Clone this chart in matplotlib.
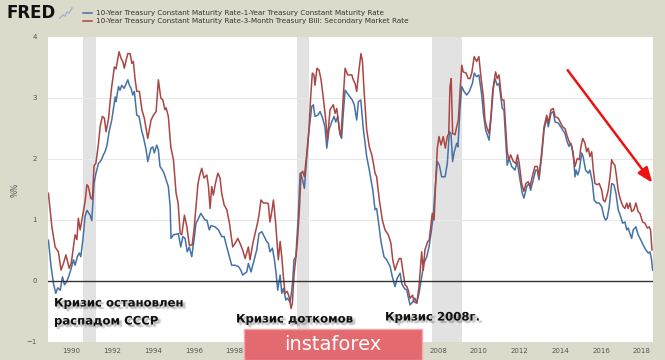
import matplotlib
matplotlib.use("Agg")
import matplotlib.pyplot as plt
import matplotlib.patheffects as pe
from matplotlib.patches import Rectangle

# ---- data (decimal years, percent) ----
red_years = [1988.86, 1989.03, 1989.19, 1989.35, 1989.48, 1989.60, 1989.72, 1989.88, 1989.98, 1990.09,
             1990.17, 1990.26, 1990.33, 1990.42, 1990.53, 1990.66, 1990.75, 1990.82, 1990.94, 1991.02,
             1991.10, 1991.19, 1991.32, 1991.40, 1991.51, 1991.61, 1991.69, 1991.81, 1991.89, 1991.97,
             1992.10, 1992.18, 1992.33, 1992.43, 1992.51, 1992.59, 1992.66, 1992.76, 1992.87, 1992.96,
             1993.03, 1993.12, 1993.20, 1993.33, 1993.45, 1993.57, 1993.74, 1993.90, 1994.02, 1994.15,
             1994.26, 1994.38, 1994.48, 1994.58, 1994.64, 1994.75, 1994.87, 1995.00, 1995.13, 1995.23,
             1995.33, 1995.41, 1995.54, 1995.66, 1995.78, 1995.92, 1996.01, 1996.10, 1996.20, 1996.27,
             1996.39, 1996.50, 1996.64, 1996.72, 1996.80, 1996.88, 1996.96, 1997.06, 1997.18, 1997.29,
             1997.37, 1997.49, 1997.62, 1997.75, 1997.91, 1998.03, 1998.16, 1998.27, 1998.40, 1998.52,
             1998.68, 1998.76, 1998.90, 1999.01, 1999.14, 1999.20, 1999.30, 1999.42, 1999.58, 1999.66,
             1999.74, 1999.83, 1999.91, 2000.02, 2000.15, 2000.24, 2000.32, 2000.40, 2000.48, 2000.59,
             2000.68, 2000.78, 2000.84, 2000.92, 2001.01, 2001.08, 2001.17, 2001.27, 2001.35, 2001.43,
             2001.55, 2001.66, 2001.74, 2001.82, 2001.90, 2001.95, 2002.05, 2002.15, 2002.25, 2002.36,
             2002.48, 2002.56, 2002.69, 2002.85, 2002.94, 2003.02, 2003.15, 2003.23, 2003.34, 2003.43,
             2003.56, 2003.76, 2003.83, 2003.92, 2004.00, 2004.11, 2004.21, 2004.28, 2004.36, 2004.49,
             2004.62, 2004.74, 2004.82, 2004.90, 2004.98, 2005.11, 2005.26, 2005.39, 2005.55, 2005.68,
             2005.77, 2005.88, 2005.99, 2006.09, 2006.18, 2006.26, 2006.37, 2006.46, 2006.53, 2006.62,
             2006.75, 2006.81, 2006.95, 2007.06, 2007.19, 2007.27, 2007.35, 2007.49, 2007.56, 2007.63,
             2007.71, 2007.80, 2007.89, 2007.96, 2008.04, 2008.14, 2008.25, 2008.35, 2008.45, 2008.52,
             2008.58, 2008.64, 2008.71, 2008.83, 2008.91, 2008.99, 2009.07, 2009.16, 2009.23, 2009.37,
             2009.48, 2009.56, 2009.65, 2009.77, 2009.89, 2010.00, 2010.10, 2010.22, 2010.30, 2010.38,
             2010.50, 2010.59, 2010.68, 2010.82, 2010.90, 2010.99, 2011.12, 2011.23, 2011.32, 2011.39,
             2011.48, 2011.56, 2011.69, 2011.81, 2011.90, 2011.98, 2012.10, 2012.21, 2012.31, 2012.42,
             2012.51, 2012.62, 2012.75, 2012.87, 2012.95, 2013.08, 2013.20, 2013.33, 2013.41, 2013.54,
             2013.65, 2013.74, 2013.90, 2014.02, 2014.11, 2014.23, 2014.34, 2014.47, 2014.56, 2014.67,
             2014.72, 2014.83, 2014.93, 2015.01, 2015.10, 2015.21, 2015.29, 2015.37, 2015.45, 2015.54,
             2015.62, 2015.70, 2015.81, 2015.91, 2016.03, 2016.11, 2016.19, 2016.27, 2016.35, 2016.44,
             2016.52, 2016.60, 2016.68, 2016.76, 2016.84, 2016.93, 2017.01, 2017.09, 2017.17, 2017.26,
             2017.33, 2017.42, 2017.50, 2017.61, 2017.71, 2017.82, 2017.91, 2018.04, 2018.15, 2018.27,
             2018.36, 2018.43, 2018.50]
red_values = [1.43, 0.88, 0.55, 0.47, 0.17, 0.28, 0.42, 0.20, 0.28, 0.55,
              0.75, 0.67, 1.02, 0.83, 1.04, 1.29, 1.57, 1.54, 1.35, 1.33,
              1.88, 1.92, 2.25, 2.52, 2.69, 2.66, 2.44, 2.64, 2.93, 3.18,
              3.50, 3.47, 3.75, 3.64, 3.59, 3.48, 3.59, 3.72, 3.72, 3.56,
              3.59, 3.29, 3.10, 3.10, 2.80, 2.66, 2.33, 2.63, 2.71, 2.77,
              3.29, 2.99, 2.96, 2.80, 2.83, 2.69, 2.19, 1.98, 1.43, 1.27,
              0.77, 0.75, 1.07, 0.88, 0.58, 0.58, 0.83, 1.18, 1.57, 1.70,
              1.84, 1.68, 1.73, 1.54, 1.18, 1.54, 1.40, 1.59, 1.76, 1.68,
              1.43, 1.24, 1.16, 0.94, 0.55, 0.61, 0.69, 0.61, 0.50, 0.36,
              0.55, 0.34, 0.61, 0.77, 0.96, 1.07, 1.32, 1.27, 1.27, 1.26,
              0.96, 1.13, 1.32, 0.94, 0.34, 0.64, 0.39, 0.06, -0.21, -0.18,
              -0.27, -0.46, -0.37, 0.09, 0.36, 0.61, 1.07, 1.76, 1.79, 1.70,
              2.09, 2.50, 3.01, 3.40, 3.37, 3.20, 3.48, 3.45, 3.29, 2.99,
              2.63, 2.30, 2.80, 2.88, 2.74, 2.82, 2.47, 2.36, 3.01, 3.48,
              3.37, 3.37, 3.29, 3.23, 3.10, 3.45, 3.72, 3.60, 3.12, 2.47,
              2.19, 2.06, 1.92, 1.76, 1.70, 1.32, 0.99, 0.83, 0.75, 0.61,
              0.34, 0.17, 0.28, 0.36, 0.36, 0.17, -0.07, -0.10, -0.16, -0.29,
              -0.24, -0.35, -0.37, -0.10, 0.47, 0.17, 0.50, 0.64, 0.66, 0.86,
              1.10, 0.99, 1.70, 2.17, 2.36, 2.22, 2.36, 2.17, 2.36, 2.41,
              3.18, 3.31, 2.41, 2.39, 2.52, 2.63, 3.07, 3.53, 3.42, 3.40,
              3.31, 3.31, 3.40, 3.67, 3.59, 3.67, 3.34, 3.01, 2.63, 2.52,
              2.41, 2.69, 3.12, 3.42, 3.31, 3.37, 2.96, 2.96, 2.47, 2.11,
              1.98, 2.06, 1.95, 1.92, 2.06, 1.92, 1.59, 1.46, 1.59, 1.62,
              1.54, 1.70, 1.87, 1.87, 1.70, 2.09, 2.52, 2.71, 2.58, 2.80,
              2.82, 2.69, 2.66, 2.58, 2.52, 2.49, 2.36, 2.25, 2.20, 1.98,
              1.87, 2.00, 1.98, 2.19, 2.33, 2.25, 2.11, 2.17, 2.03, 2.11,
              1.81, 1.59, 1.57, 1.59, 1.48, 1.32, 1.29, 1.37, 1.48, 1.70,
              1.98, 1.92, 1.89, 1.70, 1.48, 1.35, 1.27, 1.21, 1.18, 1.27,
              1.18, 1.27, 1.13, 1.16, 1.27, 1.13, 1.10, 0.96, 0.94, 0.86,
              0.88, 0.83, 0.50]

blue_years = [1988.86, 1988.99, 1989.11, 1989.22, 1989.32, 1989.44, 1989.55, 1989.65, 1989.76, 1989.88,
              1989.98, 1990.09, 1990.17, 1990.28, 1990.38, 1990.45, 1990.55, 1990.66, 1990.75, 1990.91,
              1990.99, 1991.10, 1991.19, 1991.32, 1991.45, 1991.56, 1991.64, 1991.74, 1991.84, 1991.97,
              1992.14, 1992.18, 1992.30, 1992.38, 1992.46, 1992.58, 1992.68, 1992.76, 1992.84, 1992.92,
              1993.00, 1993.08, 1993.20, 1993.31, 1993.45, 1993.52, 1993.66, 1993.74, 1993.90, 1993.99,
              1994.06, 1994.18, 1994.26, 1994.34, 1994.46, 1994.54, 1994.64, 1994.75, 1994.84, 1994.88,
              1995.00, 1995.16, 1995.24, 1995.36, 1995.46, 1995.57, 1995.68, 1995.78, 1995.90, 1996.03,
              1996.11, 1996.22, 1996.34, 1996.44, 1996.55, 1996.64, 1996.76, 1996.85, 1997.04, 1997.21,
              1997.37, 1997.49, 1997.62, 1997.75, 1997.86, 1998.03, 1998.19, 1998.31, 1998.40, 1998.52,
              1998.60, 1998.68, 1998.81, 1998.92, 1999.09, 1999.20, 1999.34, 1999.46, 1999.58, 1999.66,
              1999.74, 1999.86, 1999.96, 2000.04, 2000.12, 2000.24, 2000.32, 2000.40, 2000.52, 2000.59,
              2000.73, 2000.81, 2000.86, 2000.92, 2001.01, 2001.13, 2001.22, 2001.33, 2001.43, 2001.55,
              2001.66, 2001.79, 2001.87, 2001.95, 2002.09, 2002.20, 2002.33, 2002.44, 2002.53, 2002.64,
              2002.77, 2002.89, 2002.97, 2003.07, 2003.18, 2003.26, 2003.34, 2003.43, 2003.54, 2003.67,
              2003.78, 2003.88, 2004.00, 2004.08, 2004.20, 2004.32, 2004.49, 2004.62, 2004.79, 2004.90,
              2004.98, 2005.10, 2005.19, 2005.34, 2005.47, 2005.64, 2005.75, 2005.88, 2005.99, 2006.13,
              2006.21, 2006.34, 2006.46, 2006.53, 2006.62, 2006.75, 2006.86, 2006.95, 2007.06, 2007.19,
              2007.30, 2007.44, 2007.55, 2007.65, 2007.76, 2007.86, 2007.96, 2008.06, 2008.17, 2008.34,
              2008.45, 2008.55, 2008.63, 2008.71, 2008.79, 2008.91, 2008.97, 2009.07, 2009.16, 2009.27,
              2009.40, 2009.53, 2009.68, 2009.77, 2009.89, 2010.00, 2010.14, 2010.22, 2010.33, 2010.50,
              2010.59, 2010.71, 2010.79, 2010.90, 2010.99, 2011.15, 2011.23, 2011.32, 2011.39, 2011.48,
              2011.61, 2011.77, 2011.88, 2012.02, 2012.13, 2012.21, 2012.35, 2012.46, 2012.54, 2012.67,
              2012.79, 2012.87, 2012.95, 2013.08, 2013.20, 2013.33, 2013.41, 2013.54, 2013.65, 2013.74,
              2013.90, 2014.02, 2014.11, 2014.23, 2014.31, 2014.42, 2014.52, 2014.63, 2014.72, 2014.77,
              2014.85, 2014.93, 2015.05, 2015.12, 2015.24, 2015.37, 2015.45, 2015.57, 2015.66, 2015.78,
              2015.91, 2016.03, 2016.14, 2016.22, 2016.30, 2016.40, 2016.52, 2016.63, 2016.73, 2016.84,
              2016.96, 2017.06, 2017.17, 2017.26, 2017.33, 2017.50, 2017.58, 2017.71, 2017.82, 2017.96,
              2018.07, 2018.20, 2018.32, 2018.40, 2018.48, 2018.53]
blue_values = [0.66, 0.23, -0.05, -0.21, -0.12, -0.16, 0.06, -0.07, -0.02, 0.09,
               0.20, 0.34, 0.25, 0.39, 0.45, 0.39, 0.66, 1.05, 1.15, 1.07,
               0.98, 1.59, 1.75, 1.92, 1.97, 2.06, 2.11, 2.22, 2.44, 2.63,
               3.01, 2.93, 3.18, 3.12, 3.20, 3.15, 3.23, 3.29, 3.20, 3.15,
               3.04, 3.10, 2.71, 2.69, 2.44, 2.36, 2.14, 1.95, 2.17, 2.19,
               2.09, 2.22, 2.14, 1.87, 1.81, 1.76, 1.65, 1.54, 1.21, 0.69,
               0.75, 0.76, 0.77, 0.55, 0.72, 0.69, 0.47, 0.55, 0.39, 0.72,
               0.94, 1.01, 1.10, 1.05, 0.99, 0.99, 0.83, 0.90, 0.88, 0.83,
               0.72, 0.72, 0.55, 0.39, 0.25, 0.25, 0.23, 0.17, 0.09, 0.12,
               0.14, 0.28, 0.14, 0.28, 0.50, 0.77, 0.80, 0.72, 0.64, 0.61,
               0.47, 0.53, 0.34, 0.12, -0.16, 0.09, -0.21, -0.13, -0.32, -0.29,
               -0.35, -0.16, 0.01, 0.34, 0.39, 1.05, 1.76, 1.67, 1.51, 2.03,
               2.47, 2.85, 2.88, 2.69, 2.71, 2.77, 2.66, 2.52, 2.17, 2.47,
               2.60, 2.69, 2.60, 2.69, 2.39, 2.33, 2.74, 3.12, 3.07, 3.01,
               2.96, 2.88, 2.63, 2.93, 2.96, 2.50, 2.03, 1.81, 1.48, 1.16,
               1.18, 0.88, 0.64, 0.39, 0.34, 0.23, 0.06, -0.10, 0.04, 0.12,
               -0.05, -0.13, -0.16, -0.27, -0.40, -0.35, -0.29, -0.37, -0.21, 0.06,
               0.28, 0.39, 0.55, 0.77, 1.07, 1.54, 1.95, 1.89, 1.70, 1.70,
               1.92, 2.44, 2.41, 1.95, 2.11, 2.25, 2.19, 2.80, 3.18, 3.10,
               3.04, 3.10, 3.23, 3.40, 3.34, 3.37, 3.04, 2.74, 2.47, 2.30,
               2.63, 3.15, 3.31, 3.20, 3.23, 2.82, 2.80, 2.30, 1.89, 2.00,
               1.87, 1.81, 1.95, 1.65, 1.43, 1.35, 1.54, 1.59, 1.48, 1.65,
               1.81, 1.81, 1.65, 2.03, 2.47, 2.66, 2.52, 2.74, 2.77, 2.60,
               2.58, 2.52, 2.47, 2.41, 2.30, 2.20, 2.25, 2.09, 1.70, 1.81,
               1.73, 1.81, 2.09, 2.03, 1.81, 1.76, 1.81, 1.62, 1.32, 1.27,
               1.27, 1.21, 1.05, 0.99, 1.02, 1.21, 1.59, 1.57, 1.43, 1.16,
               1.05, 0.94, 0.96, 0.83, 0.86, 0.69, 0.83, 0.88, 0.75, 0.66,
               0.58, 0.50, 0.45, 0.47, 0.34, 0.17]

recessions = [(1990.58, 1991.19), (2001.06, 2001.67), (2007.71, 2009.16)]
year_ticks = list(range(1990, 2019, 2))
hidden_tick_labels = [2000, 2002, 2004, 2006]   # covered by the watermark box
y_ticks = [-1, 0, 1, 2, 3, 4]

legend_labels = ["10-Year Treasury Constant Maturity Rate-1-Year Treasury Constant Maturity Rate",
                 "10-Year Treasury Constant Maturity Rate-3-Month Treasury Bill: Secondary Market Rate"]
notes = [("Кризис остановлен\nраспадом СССР", 54, 312),
         ("Кризис доткомов", 236, 319),
         ("Кризис 2008г.", 385, 317)]

# ---- styling ----
BG = "#DCDACB"
BLUE = "#4572A7"
RED = "#AA4643"
W, H = 665, 360

fig = plt.figure(figsize=(W / 100, H / 100), dpi=100)
fig.patch.set_facecolor(BG)
ax = fig.add_axes([48 / W, 1 - 341.5 / H, (653 - 48) / W, (341.5 - 36.5) / H])
ax.set_facecolor("white")

for a, b in recessions:
    ax.axvspan(a, b, color="#E2E2E2", lw=0, zorder=0)

for v in [1, 2, 3]:
    ax.axhline(v, color="#E8E8E8", lw=0.8, zorder=0.5)

ax.plot(red_years, red_values, color=RED, lw=1.1, zorder=3)
ax.plot(blue_years, blue_values, color=BLUE, lw=1.1, zorder=2)
ax.axhline(0, color="#333333", lw=1.0, zorder=4)

ax.set_xlim(1988.84, 2018.55)
ax.set_ylim(-1, 4)
ax.set_xticks(year_ticks)
ax.set_xticklabels(["" if y in hidden_tick_labels else str(y) for y in year_ticks])
ax.set_yticks(y_ticks)
ax.tick_params(axis="both", length=0, labelsize=5, labelcolor="#555555")
ax.tick_params(axis="x", pad=5)
ax.tick_params(axis="y", pad=8)
for s in ax.spines.values():
    s.set_visible(False)
fig.text(15 / W, 1 - 190 / H, "%%", fontsize=5.5, color="#555555", rotation=90,
         ha="center", va="center")

# header: FRED logo + legend
fig.text(6 / W, 1 - 13 / H, "FRED", fontsize=12, fontweight="bold", color="#111111",
         va="center", ha="left", family="DejaVu Sans")
icon_x = [60, 63, 65, 67, 69, 72]
icon_y = [18, 15, 16, 12, 13, 8]
fig.lines.append(plt.Line2D([x / W for x in icon_x], [1 - y / H for y in icon_y],
                            color="#9DB3CF", lw=1.0, transform=fig.transFigure))
for i, (lab, col) in enumerate(zip(legend_labels, [BLUE, RED])):
    yy = 1 - (12.5 + 8 * i) / H
    fig.lines.append(plt.Line2D([83 / W, 92 / W], [yy, yy], color=col, lw=1.1,
                                transform=fig.transFigure))
    fig.text(96 / W, yy, lab, fontsize=5.2, color="#333333", va="center", ha="left")

# annotations with soft shadow
shadow = [pe.SimplePatchShadow(offset=(1.0, -1.5), shadow_rgbFace="#444444", alpha=0.18),
          pe.SimplePatchShadow(offset=(2.0, -2.0), shadow_rgbFace="#444444", alpha=0.18),
          pe.SimplePatchShadow(offset=(2.5, -1.2), shadow_rgbFace="#444444", alpha=0.12),
          pe.Normal()]
for txt, px, py in notes:
    fig.text(px / W, 1 - py / H, txt, fontsize=8.4, fontweight="bold", color="#111111",
             ha="left", va="center", linespacing=1.5, path_effects=shadow)

# red arrow
ax.annotate("", xy=(654, H - 185), xycoords="figure pixels",
            xytext=(566, H - 68), textcoords="figure pixels",
            arrowprops=dict(arrowstyle="-|>,head_length=0.9,head_width=0.35",
                            color="#EE1111", lw=1.8), zorder=10)

# instaforex box
fig.patches.append(Rectangle((244 / W, 0), (421.5 - 244) / W, (360 - 329) / H,
                             transform=fig.transFigure, facecolor="#E36A6E",
                             edgecolor="#F2A7A9", lw=1.0, zorder=20))
fig.text(333 / W, 1 - 344 / H, "instaforex", fontsize=14, color="white",
         ha="center", va="center", zorder=21)

fig.savefig("out.png", dpi=100, facecolor=BG)
